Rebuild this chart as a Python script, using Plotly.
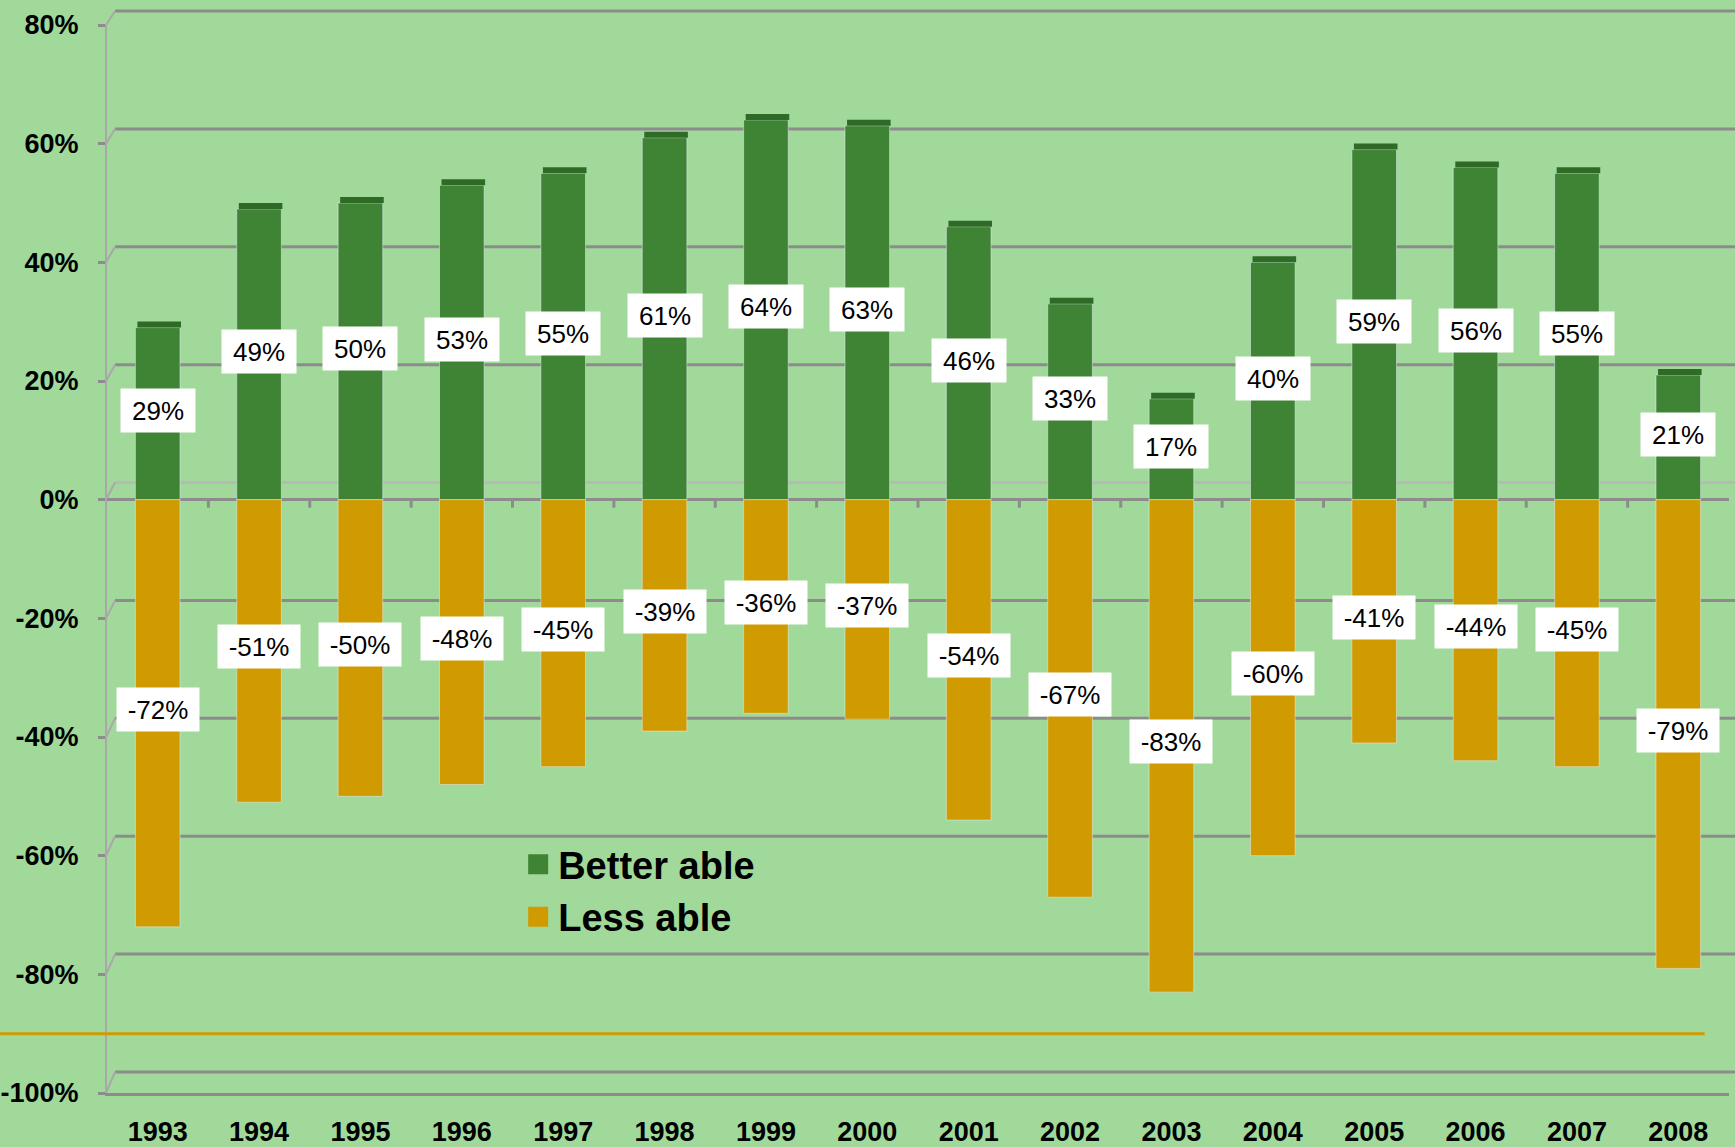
import plotly.graph_objects as go

YEARS = ["1993", "1994", "1995", "1996", "1997", "1998", "1999", "2000",
         "2001", "2002", "2003", "2004", "2005", "2006", "2007", "2008"]
BETTER_ABLE = [29, 49, 50, 53, 55, 61, 64, 63, 46, 33, 17, 40, 59, 56, 55, 21]
LESS_ABLE = [-72, -51, -50, -48, -45, -39, -36, -37, -54, -67, -83, -60, -41, -44, -45, -79]
Y_TICKS = [-100, -80, -60, -40, -20, 0, 20, 40, 60, 80]
Y_TICK_LABELS = ["-100%", "-80%", "-60%", "-40%", "-20%", "0%", "20%", "40%", "60%", "80%"]
REF_LINE = -90

YMIN, YMAX = -100, 80
BG = "#A1D99B"
GREEN = "#3F8434"
GREEN_CAP = "#2F6B27"
GOLD = "#D09B00"
GRID = "#8C8C8C"
FONT = "Liberation Sans, Arial, sans-serif"
BAR_W = 0.44

fig = go.Figure()
fig.add_trace(go.Bar(x=YEARS, y=BETTER_ABLE, name="Better able", marker_color=GREEN,
                     width=BAR_W, showlegend=False))
fig.add_trace(go.Bar(x=YEARS, y=LESS_ABLE, name="Less able", marker_color=GOLD,
                     width=BAR_W, showlegend=False))
# legend entries
for nm, col in [("Better able", GREEN), ("Less able", GOLD)]:
    fig.add_trace(go.Scatter(x=[None], y=[None], mode="markers", name=nm,
                             marker=dict(symbol="square", size=16, color=col,
                                         line=dict(color=col, width=4))))

# data labels
annotations = []
for i, v in enumerate(BETTER_ABLE):
    annotations.append(dict(xref="x", yref="y", x=i, y=v / 2, text=f"{v}%",
                            showarrow=False, yshift=3, bgcolor="white",
                            width=72, height=41,
                            font=dict(family=FONT, size=26, color="black")))
for i, v in enumerate(LESS_ABLE):
    annotations.append(dict(xref="x", yref="y", x=i, y=v / 2, text=f"{v}%",
                            showarrow=False, yshift=4, bgcolor="white",
                            width=80, height=41,
                            font=dict(family=FONT, size=26, color="black")))

shapes = []
def ypaper(v):
    return (v - YMIN) / (YMAX - YMIN)

# back-wall gridlines (3D offset) and left connectors
for v in Y_TICKS:
    off = 14 + (YMAX - v) / (YMAX - YMIN) * 7
    col = "#B8B8B8" if v == 0 else GRID
    shapes.append(dict(type="line", xref="paper", yref="paper", ysizemode="pixel",
                       yanchor=ypaper(v), x0=0.005, x1=1.004, y0=off, y1=off,
                       line=dict(color=col, width=3), layer="below"))
    shapes.append(dict(type="line", xref="paper", yref="paper", xsizemode="pixel",
                       ysizemode="pixel", xanchor=0, yanchor=ypaper(v),
                       x0=-1, x1=8, y0=0, y1=off,
                       line=dict(color="#A8A8A8", width=2), layer="below"))
# tick marks on the zero line at category boundaries
for i in range(len(YEARS) - 1):
    shapes.append(dict(type="line", xref="x", yref="y", ysizemode="pixel", yanchor=0,
                       x0=i + 0.5, x1=i + 0.5, y0=0, y1=-8,
                       line=dict(color=GRID, width=3), layer="below"))
# 3D top caps on the green bars
for i, v in enumerate(BETTER_ABLE):
    shapes.append(dict(type="rect", xref="x", yref="y", ysizemode="pixel", yanchor=v,
                       x0=i - BAR_W / 2 + 0.02, x1=i + BAR_W / 2 + 0.01, y0=0, y1=6,
                       fillcolor=GREEN_CAP, line=dict(width=0), layer="above"))
# orange reference line
shapes.append(dict(type="line", xref="paper", yref="y", x0=-0.066, x1=0.985,
                   y0=REF_LINE, y1=REF_LINE, line=dict(color=GOLD, width=3)))

fig.update_layout(
    width=1735, height=1147,
    barmode="relative",
    paper_bgcolor=BG, plot_bgcolor=BG,
    margin=dict(l=107, r=6, t=25, b=54, autoexpand=False),
    font=dict(family=FONT, color="black"),
    annotations=annotations,
    shapes=shapes,
    legend=dict(x=0.2535, y=0.2434, xanchor="left", yanchor="top",
                bgcolor="rgba(0,0,0,0)", tracegroupgap=0,
                font=dict(family=FONT, size=38, color="black", weight="bold")),
    xaxis=dict(type="category", range=[-0.5, len(YEARS) - 0.5], showgrid=False,
               automargin=False,
               showline=True, linecolor=GRID, linewidth=3, ticks="",
               ticklabelstandoff=13,
               tickfont=dict(family=FONT, size=27, color="black", weight="bold")),
    yaxis=dict(range=[YMIN, YMAX], tickmode="array", tickvals=Y_TICKS,
               automargin=False,
               ticktext=Y_TICK_LABELS, showgrid=False, zeroline=True,
               zerolinecolor=GRID, zerolinewidth=3, showline=True,
               linecolor="#A8A8A8", linewidth=2, ticks="outside", ticklen=7,
               tickwidth=3, tickcolor=GRID, ticklabelstandoff=14,
               tickfont=dict(family=FONT, size=27, color="black", weight="bold")),
)

fig.write_html("out.html", config={"displayModeBar": False},
               post_script="document.body.style.margin='0';document.body.style.overflow='hidden';")
